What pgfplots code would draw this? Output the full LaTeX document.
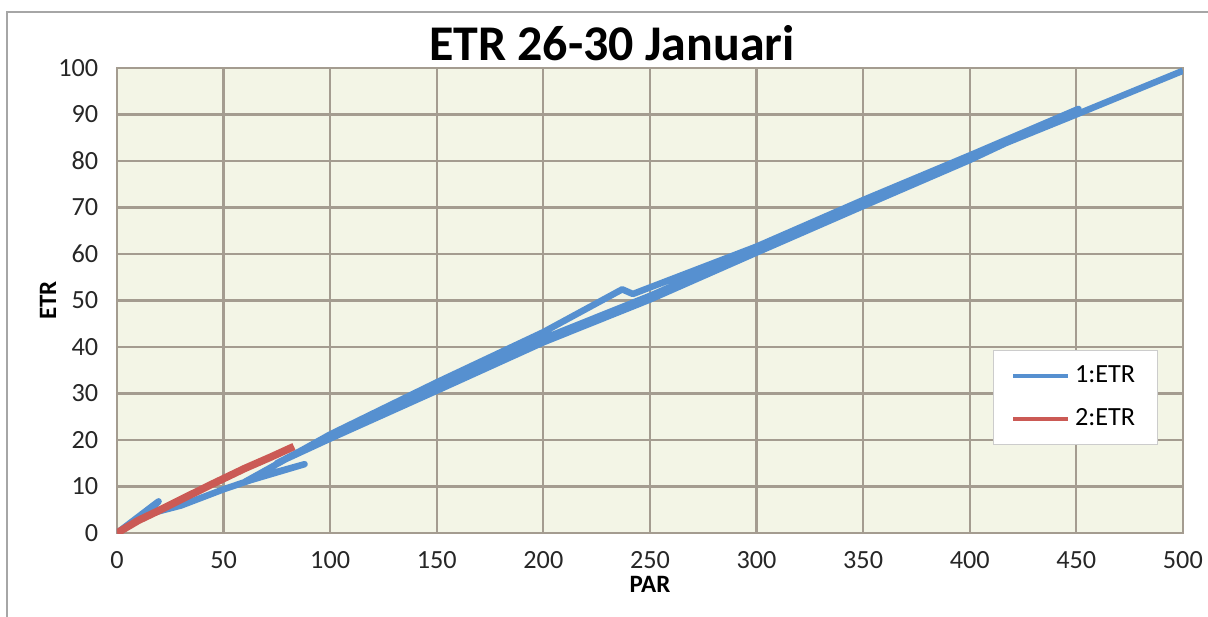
\documentclass[border=0pt]{standalone}
\usepackage{pgfplots}
\pgfplotsset{compat=1.18}
\usepackage{fontspec}
\setmainfont{Carlito}
\definecolor{bgc}{HTML}{F3F5E6}
\definecolor{gridc}{HTML}{A49C90}
\definecolor{blueL}{HTML}{5690D0}
\definecolor{redL}{HTML}{CB5A55}
\definecolor{txt}{HTML}{262626}
\begin{document}
\begin{tikzpicture}
\path[use as bounding box] (0,0) rectangle (17cm,8.683cm);
\draw[gray!70, line width=0.6pt] (0.0985cm,0) -- (0.0985cm,8.514cm) -- (17cm,8.514cm);
\begin{axis}[
  at={(1.6465cm,1.1821cm)}, anchor=south west,
  scale only axis, width=15.0cm, height=6.544cm,
  xmin=0, xmax=500, ymin=0, ymax=100,
  xtick={0,50,...,500}, ytick={0,10,...,100},
  grid=major,
  major grid style={gridc, line width=0.9pt},
  axis line style={gridc, line width=0.9pt},
  axis background/.style={fill=bgc},
  tick style={draw=none},
  /pgf/number format/assume math mode=true,
  ticklabel style={font=\fontsize{10.5}{12}\selectfont, text=txt},
  xticklabel style={yshift=-4pt},
  yticklabel style={xshift=-4pt},
  xlabel={\textbf{PAR}}, ylabel={\textbf{ETR}},
  xlabel style={font=\fontsize{10}{12}\selectfont, yshift=4pt},
  ylabel style={font=\fontsize{10}{12}\selectfont, yshift=-6pt},
  legend style={at={(axis cs:411,39.4)}, anchor=north west, draw=gray!40, fill=white,
    font=\fontsize{10.5}{12}\selectfont, row sep=5pt, inner xsep=7pt, inner ysep=4pt},
  legend cell align=left,
  legend image code/.code={\draw[#1, line width=1.6pt] (0pt,0pt) -- (22pt,0pt);},
]
\addplot[blueL, line width=2.6pt, line join=round] coordinates {
(0,0) (19.5,6.8) (14,4.0) (30,5.9) (50,9.4) (70,12.5) (88,14.8) (60,11.0)
(100,21.2) (150,32.4) (200,43.2) (237,52.4) (242,51.4) (300,61.6) (350,71.6)
(400,81.2) (451,91.2) (400,80.2) (350,70.3) (300,60.3) (250,50.2)
(200,41.0) (150,30.6) (100,20.3) (75,15.0) (100,21.0) (150,31.4)
(200,41.8) (250,51) (300,61) (350,71) (400,80.7) (450,90) (500,99.4)
};
\addlegendentry{1:ETR}
\addplot[redL, line width=3pt, line join=round] coordinates {
(0,0) (10,2.7) (20,4.9) (30,7.2) (45,10.6) (60,13.9) (72,16.3) (83,18.6)
};
\addlegendentry{2:ETR}
\end{axis}
\node[font=\fontsize{20}{24}\selectfont\bfseries, text=black] at (8.6126cm,8.0778cm) {ETR 26-30 Januari};
\end{tikzpicture}
\end{document}
